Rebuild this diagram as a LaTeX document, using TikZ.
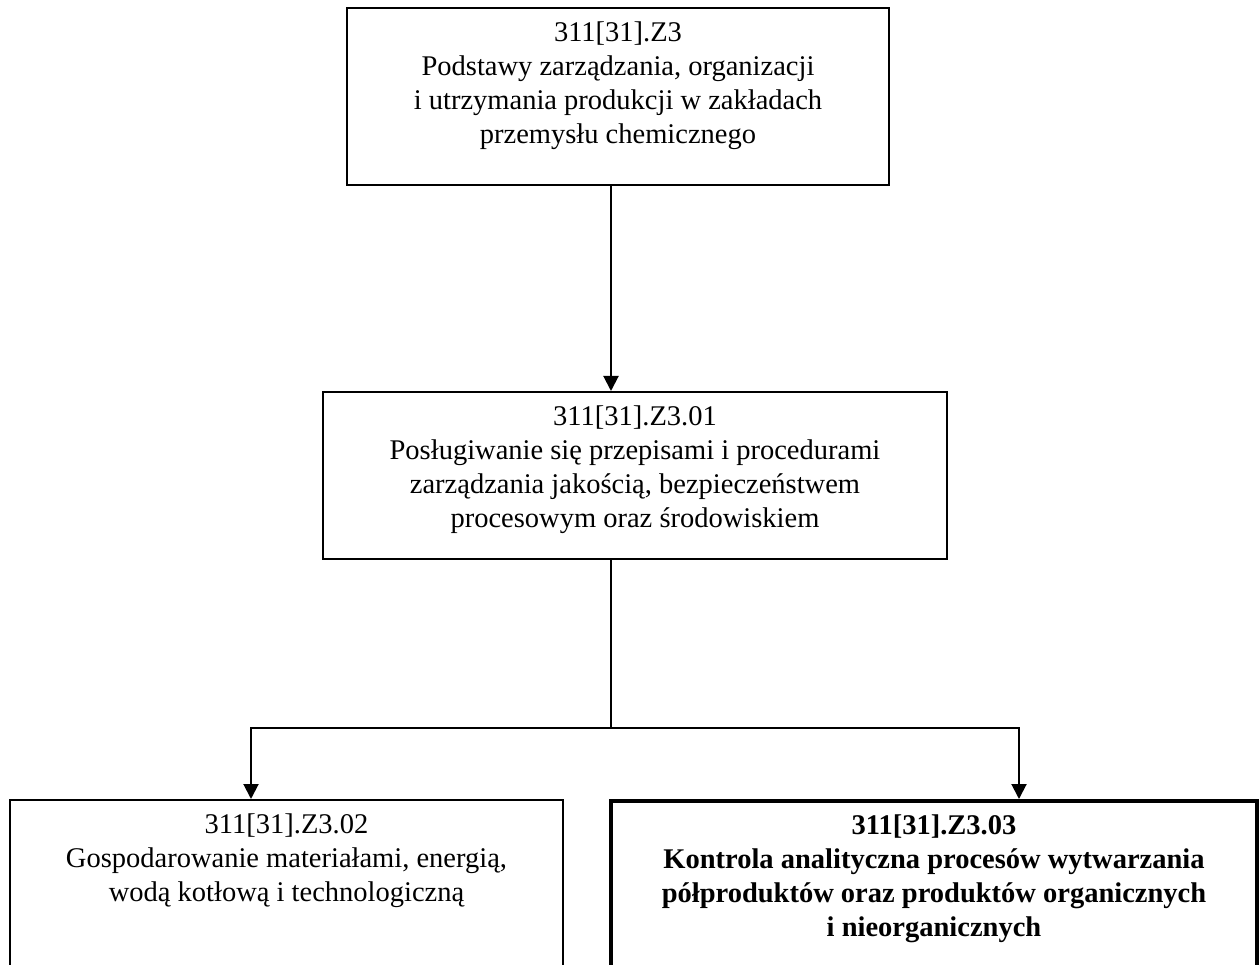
\documentclass[tikz,border=0pt]{standalone}
\usepackage{fontspec}
\setmainfont{Liberation Serif}
\usetikzlibrary{arrows.meta, positioning}

\newcommand{\unittext}[3]{\parbox[t][#2][t]{#1}{\centering\vspace*{14pt}#3}}

\begin{document}
\begin{tikzpicture}[
          x=1pt, y=-1pt,
          unit/.style={draw, rectangle, inner sep=0pt, anchor=north, line width=2pt, font=\fontsize{28.5}{34}\selectfont},
          mainunit/.style={unit, line width=4pt, font=\fontsize{28.5}{34}\selectfont\bfseries},
          >={Triangle[length=15pt, width=15pt]},
          line width=2pt
        ]
          \clip (0,0) rectangle (1259,965);

          % jednostki modułowe
          \node[unit] (z3) at (618,7) {\unittext{542pt}{177pt}{311[31].Z3\\
            Podstawy zarządzania, organizacji\\
            i utrzymania produkcji w zakładach\\
            przemysłu chemicznego}};
          \node[unit] (z301) at (635,391) {\unittext{624pt}{167pt}{311[31].Z3.01\\
            Posługiwanie się przepisami i procedurami\\
            zarządzania jakością, bezpieczeństwem\\
            procesowym oraz środowiskiem}};
          \node[unit] (z302) at (286.5,799) {\unittext{553pt}{200pt}{311[31].Z3.02\\
            Gospodarowanie materiałami, energią,\\
            wodą kotłową i technologiczną}};
          \node[mainunit] (z303) at (934,799) {\unittext{646pt}{200pt}{311[31].Z3.03\\
            Kontrola analityczna procesów wytwarzania\\
            półproduktów oraz produktów organicznych\\
            i nieorganicznych}};

          % rozgałęzienie
          \coordinate (fork) at (611,728);
          \coordinate (forkl) at (251,728);
          \coordinate (forkr) at (1019,728);

          % połączenia
          \draw[->] (z3.south -| fork) -- (z301.north -| fork);
          \draw (z301.south -| fork) -- (fork);
          \draw[->] (fork) -- (forkl) -- (z302.north -| forkl);
          \draw[->] (fork) -- (forkr) -- (z303.north -| forkr);
        \end{tikzpicture}
\end{document}
